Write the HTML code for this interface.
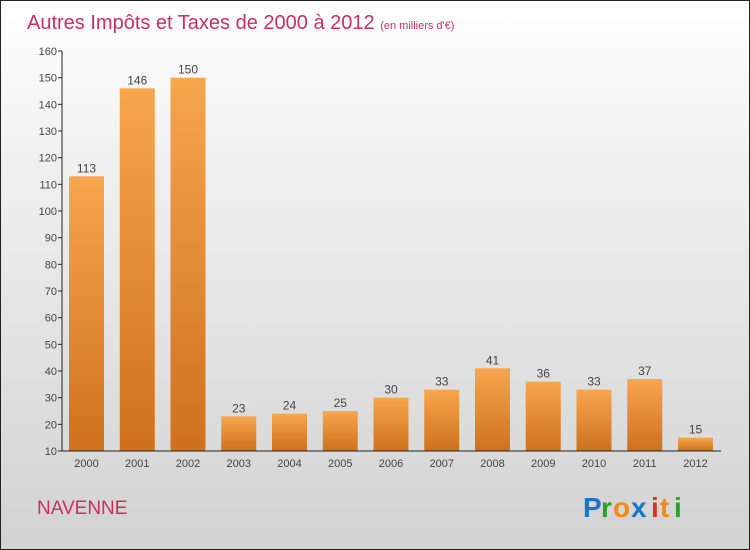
<!DOCTYPE html>
<html><head><meta charset="utf-8"><style>
body{margin:0}
#c{width:748px;height:548px;border:1px solid #222;background:linear-gradient(#ffffff,#f0f0f0 30%,#d2d2d2);position:relative;font-family:"Liberation Sans",sans-serif;overflow:hidden}
</style></head><body>
<div id="c">
<svg width="748" height="548" style="position:absolute;left:0;top:0">
<defs><linearGradient id="bg" x1="0" y1="0" x2="0" y2="1"><stop offset="0" stop-color="#f7a64e"/><stop offset="1" stop-color="#cf711c"/></linearGradient></defs>
<text x="26" y="28" font-size="20" fill="#c8305e">Autres Impôts et Taxes de 2000 à 2012 <tspan font-size="11">(en milliers d'€)</tspan></text>
<g id="plot"></g>
<text x="36" y="513" font-size="19" fill="#c8305e">NAVENNE</text>
<g font-size="28" font-weight="bold">
<text x="582" y="516" fill="#1a74c9">P</text><text x="600" y="516" fill="#2aa02a">r</text><text x="612" y="516" fill="#f08a10">o</text><text x="630" y="516" fill="#1a74c9">x</text><text x="650" y="516" fill="#e03020">i</text><text x="659" y="516" fill="#f08a10">t</text><text x="673" y="516" fill="#2aa02a">i</text>
</g>
</svg>
</div>
<script>
const years=["2000","2001","2002","2003","2004","2005","2006","2007","2008","2009","2010","2011","2012"];
const values=[113,146,150,23,24,25,30,33,41,36,33,37,15];
const ticks=[10,20,30,40,50,60,70,80,90,100,110,120,130,140,150,160];
const NS="http://www.w3.org/2000/svg";
const g=document.getElementById('plot');
const y=v=>450-(v-10)*400/150;
const x=i=>85.5+i*50.75;
function mk(t,a){const e=document.createElementNS(NS,t);for(const k in a)e.setAttribute(k,a[k]);g.appendChild(e);return e;}
ticks.forEach(t=>{
 const l=mk('line',{x1:57,x2:61,y1:y(t),y2:y(t),stroke:'#222'});
 
 
 const tx=mk('text',{x:56,y:y(t)+4,'font-size':11,'text-anchor':'end',fill:'#444'});
 tx.textContent=t;
 
 
});
values.forEach((v,i)=>{
 const r=mk('rect',{x:x(i)-17.5,y:y(v),width:35,height:450-y(v),fill:'url(#bg)'});
 
 
 const lb=mk('text',{x:x(i),y:y(v)-4,'font-size':12,'text-anchor':'middle',fill:'#444'});
 lb.textContent=v;
 
 
 const xl=mk('text',{x:x(i),y:466,'font-size':11,'text-anchor':'middle',fill:'#444'});
 xl.textContent=years[i];
 
 
});
const ya=mk('line',{x1:61,x2:61,y1:50,y2:450,stroke:'#222'});


const xa=mk('line',{x1:61,x2:720,y1:450,y2:450,stroke:'#222'});


</script>
</body></html>
